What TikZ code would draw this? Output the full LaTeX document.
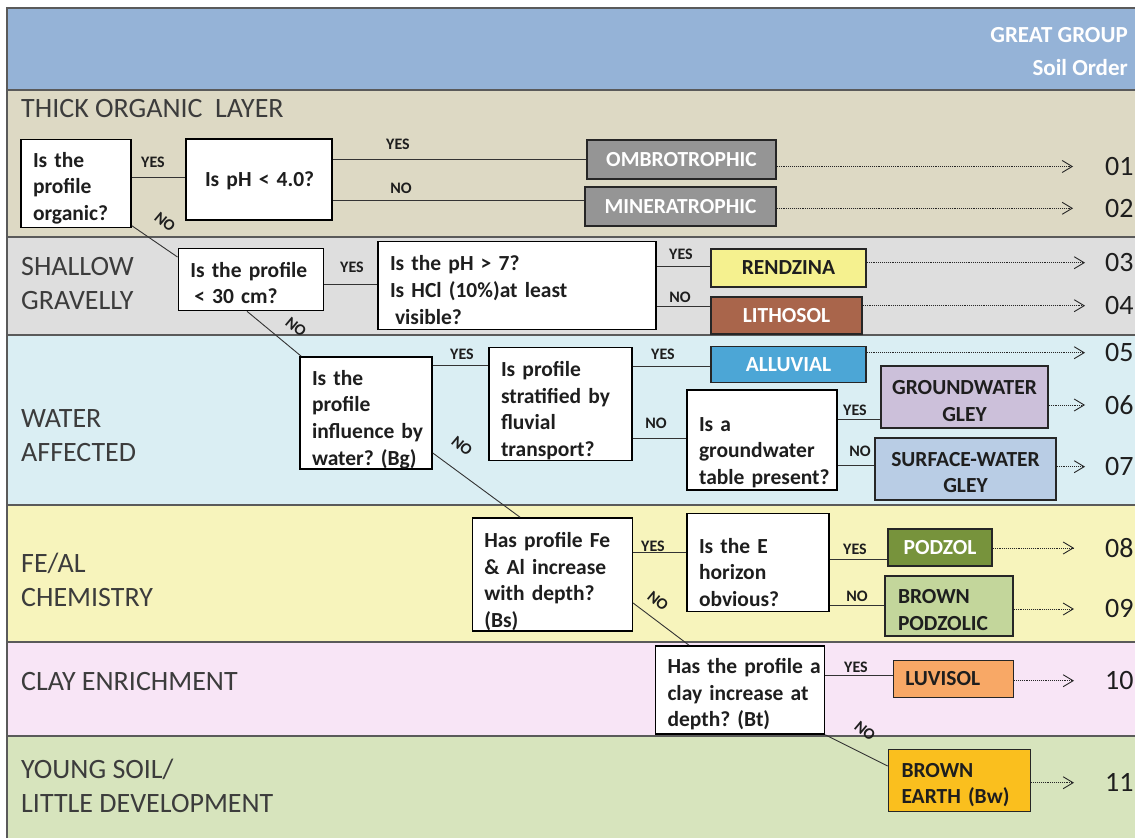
\documentclass[tikz,border=0pt]{standalone}
\usepackage{fontspec}
\setmainfont{Carlito}
\usetikzlibrary{arrows.meta}
\definecolor{hdr}{HTML}{95B3D7}
\definecolor{bandA}{HTML}{DDD9C4}
\definecolor{bandB}{HTML}{DEDEDE}
\definecolor{bandC}{HTML}{DAEEF3}
\definecolor{bandD}{HTML}{F7F4BC}
\definecolor{bandE}{HTML}{F8E5F6}
\definecolor{bandF}{HTML}{D7E4BD}
\definecolor{bandline}{HTML}{5A5A5A}
\definecolor{cOmbro}{HTML}{959595}
\definecolor{cRend}{HTML}{F5F18F}
\definecolor{cLith}{HTML}{A9654B}
\definecolor{cAllu}{HTML}{4CA6D6}
\definecolor{cGg}{HTML}{CCC0DA}
\definecolor{cSg}{HTML}{B9CDE5}
\definecolor{cPodz}{HTML}{77933C}
\definecolor{cBp}{HTML}{C3D69B}
\definecolor{cLuv}{HTML}{F8A866}
\definecolor{cBe}{HTML}{FABF1E}
\definecolor{txt}{HTML}{1E1E1E}
\definecolor{cattxt}{HTML}{3C3C3C}
\newcommand\qfont{\bfseries\fontsize{21.5}{26.6}\selectfont}
\newcommand\ynfont{\bfseries\fontsize{16}{18}\selectfont}
\newcommand\numfont{\fontsize{28}{32}\selectfont}
\newcommand\catfont{\fontsize{28}{34}\selectfont}
\newcommand\hdrfont{\bfseries\fontsize{23}{28}\selectfont}
\newcommand\ql[1]{\mbox{#1}}
\newcommand\qr[1]{\rule{0pt}{#1pt}}
\frenchspacing
\begin{document}
\begin{tikzpicture}[x=1pt,y=-1pt,
  q/.style={draw=black, line width=1.6pt, fill=white, align=left, inner xsep=12pt, inner ysep=0pt, font=\qfont, text=txt},
  rb/.style={draw=black!85, line width=1.6pt, inner sep=0pt, font=\qfont, align=center, text=txt},
  conn/.style={draw=black!80, line width=0.9pt},
  yn/.style={font=\ynfont, text=txt, inner sep=0pt},
  res/.style={draw=black!85, densely dotted, line width=0.9pt, -{Straight Barb[length=10pt,width=12pt,line width=0.9pt]}},
  num/.style={font=\numfont, text=txt, anchor=west, inner sep=0pt},
  cat/.style={font=\catfont, text=cattxt, anchor=west, align=left, inner sep=0pt},
  hdrtxt/.style={font=\hdrfont, text=white, anchor=east, inner sep=0pt},
  bl/.style={draw=bandline, line width=1.8pt}
]
\useasboundingbox (0,0) rectangle (1135,838);
\fill[white] (0,0) rectangle (1135,838);
% bands
\fill[hdr] (7,8) rectangle (1135,90);
\fill[bandA] (7,90) rectangle (1135,237);
\fill[bandB] (7,237) rectangle (1135,335);
\fill[bandC] (7,335) rectangle (1135,505);
\fill[bandD] (7,505) rectangle (1135,642);
\fill[bandE] (7,642) rectangle (1135,736);
\fill[bandF] (7,736) rectangle (1135,838);
\draw[bl] (7,838) -- (7,8) -- (1135,8);
\foreach \yy in {90,237,335,505,642,736} \draw[bl] (7,\yy) -- (1135,\yy);

% header
\node[hdrtxt] (hgg) at (1128,35) {GREAT GROUP};
\node[hdrtxt] (hso) at (1128,68) {Soil Order};

% categories
\node[cat] (c1) at (21,109) {THICK ORGANIC\ \ LAYER};
\node[cat] (c2) at (21,284) {SHALLOW\\GRAVELLY};
\node[cat] (c3) at (21,435.5) {WATER\\AFFECTED};
\node[cat] (c4) at (21,579.5) {FE/AL\\CHEMISTRY};
\node[cat] (c5) at (21,682) {CLAY ENRICHMENT};
\node[cat] (c6) at (21,786) {YOUNG SOIL/\\LITTLE DEVELOPMENT};

% question boxes
\node[q, text width=86pt, minimum height=88pt] (q1) at (76,183.5) {\ql{\qr{24}Is the}\\\ql{profile}\\\ql{organic?}};
\node[q, inner xsep=19pt, text width=108pt, minimum height=81pt] (q2) at (259,179.5) {\ql{\qr{18}Is pH < 4.0?}};
\node[q, text width=121pt, minimum height=62pt] (q3) at (250.8,279.5) {\ql{\qr{22}Is the profile}\\\ql{\hspace*{4pt}< 30 cm?}};
\node[q, text width=254pt, minimum height=88pt] (q4) at (517,285.5) {\ql{\qr{24}Is the pH > 7?}\\\ql{Is HCl (10\%)at least}\\\ql{\hspace*{5pt}visible?}};
\node[q, text width=108pt, minimum height=112pt] (q5) at (366,413) {\ql{\qr{28}Is the}\\\ql{profile}\\\ql{influence by}\\\ql{water? (Bg)}};
\node[q, text width=119pt, minimum height=113pt] (q6) at (560.5,404) {\ql{\qr{28}Is profile}\\\ql{stratified by}\\\ql{fluvial}\\\ql{transport?}};
\node[q, text width=126pt, minimum height=100pt] (q7) at (762,440) {\ql{\qr{39}Is a}\\\ql{groundwater}\\\ql{table present?}};
\node[q, text width=136pt, minimum height=113pt] (q8) at (552.3,574.5) {\ql{\qr{29}Has profile Fe}\\\ql{\& Al increase}\\\ql{with depth?}\\\ql{(Bs)}};
\node[q, text width=118pt, minimum height=98pt] (q9) at (758,562.5) {\ql{\qr{35}Is the E}\\\ql{horizon}\\\ql{obvious?}};
\node[q, text width=145pt, minimum height=88pt] (q10) at (740,690) {\ql{\qr{24}Has the profile a}\\\ql{clay increase at}\\\ql{depth? (Bt)}};

% result boxes
\node[rb, fill=cOmbro, text=white, minimum width=189pt, minimum height=39pt] (om) at (681.5,159.5) {OMBROTROPHIC};
\node[rb, fill=cOmbro, text=white, minimum width=191pt, minimum height=39pt] (mn) at (680.5,206.5) {MINERATROPHIC};
\node[rb, fill=cRend, minimum width=155pt, minimum height=38pt] (rz) at (788.5,268) {RENDZINA};
\node[rb, fill=cLith, text=white, minimum width=151pt, minimum height=37pt] (li) at (786.5,315.5) {LITHOSOL};
\node[rb, fill=cAllu, text=white, minimum width=155pt, minimum height=36pt] (al) at (788.5,364.3) {ALLUVIAL};
\node[rb, fill=cGg, minimum width=167pt, minimum height=62pt] (gg) at (964.5,397.2) {\qr{22}GROUNDWATER\\GLEY};
\node[rb, fill=cSg, minimum width=181pt, minimum height=62pt] (sg) at (965.5,469.2) {\qr{21}SURFACE-WATER\\GLEY};
\node[rb, fill=cPodz, text=white, minimum width=104pt, minimum height=37pt] (pz) at (940,547.5) {PODZOL};
\node[rb, fill=cBp, align=left, inner xsep=13pt, text width=102pt, minimum height=60pt] (bp) at (949,606) {\qr{22}BROWN\\PODZOLIC};
\node[rb, fill=cLuv, align=left, inner xsep=12pt, text width=96pt, minimum height=37pt] (lv) at (953.3,679) {LUVISOL};
\node[rb, fill=cBe, align=left, inner xsep=13pt, text width=116pt, minimum height=62pt] (be) at (959.5,780.5) {\qr{23}BROWN\\\ql{EARTH (Bw)}};

% straight connectors
\draw[conn] (q1.east |- 0,177) -- (q2.west |- 0,177);
\draw[conn] (q2.east |- 0,159.3) -- (om.west |- 0,159.3);
\draw[conn] (q2.east |- 0,200) -- (mn.west |- 0,200);
\draw[conn] (q3.east |- 0,284.3) -- (q4.west |- 0,284.3);
\draw[conn] (q4.east |- 0,266) -- (rz.west |- 0,266);
\draw[conn] (q4.east |- 0,306) -- (li.west |- 0,306);
\draw[conn] (q5.east |- 0,365) -- (q6.west |- 0,365);
\draw[conn] (q6.east |- 0,366) -- (al.west |- 0,366);
\draw[conn] (q6.east |- 0,438) -- (q7.west |- 0,438);
\draw[conn] (q7.east |- 0,419) -- (gg.west |- 0,419);
\draw[conn] (q7.east |- 0,465) -- (sg.west |- 0,465);
\draw[conn] (q8.east |- 0,552) -- (q9.west |- 0,552);
\draw[conn] (q9.east |- 0,559) -- (pz.west |- 0,559);
\draw[conn] (q9.east |- 0,605) -- (bp.west |- 0,605);
\draw[conn] (q10.east |- 0,675) -- (lv.west |- 0,675);
% diagonal NO connectors
\draw[conn] (q1.east |- 0,225.7) -- (q3.west |- 0,257);
\draw[conn] (q3.south -| 247,0) -- ([xshift=2pt]q5.north west);
\draw[conn] (q5.east |- 0,453) -- (q8.north -| 520,0);
\draw[conn] (q8.east |- 0,603) -- (q10.north -| 689,0);
\draw[conn] (q10.south east) -- (be.west |- 0,766);

% YES / NO labels
\node[yn] (y1) at (153,162) {YES};
\node[yn] (y2) at (398,144) {YES};
\node[yn] (n2) at (401,188) {NO};
\node[yn, rotate=-40] (n1) at (165,222) {NO};
\node[yn] (y3) at (352,267) {YES};
\node[yn] (y4) at (681,254) {YES};
\node[yn] (n4) at (680,297) {NO};
\node[yn, rotate=-40] (n3) at (296,327) {NO};
\node[yn] (y5) at (462,354) {YES};
\node[yn] (y6) at (663,354) {YES};
\node[yn] (n6) at (656,423) {NO};
\node[yn] (y7) at (855,410) {YES};
\node[yn] (n7) at (860,451) {NO};
\node[yn, rotate=-40] (n5) at (462,446) {NO};
\node[yn] (y8) at (653,546) {YES};
\node[yn] (y9) at (855,549) {YES};
\node[yn] (n9) at (857,596) {NO};
\node[yn, rotate=-40] (n8) at (658,601) {NO};
\node[yn] (y10) at (856,667) {YES};
\node[yn, rotate=-40] (n10) at (865,731) {NO};

% result arrows and numbers
\coordinate (t01) at (1073,166.5);
\coordinate (t02) at (1073,208.3);
\coordinate (t03) at (1085,262.7);
\coordinate (t04) at (1085,305.7);
\coordinate (t05) at (1085,352.7);
\coordinate (t06) at (1085,405);
\coordinate (t07) at (1085,466.7);
\coordinate (t08) at (1074,548);
\coordinate (t09) at (1074,609);
\coordinate (t10) at (1074,680.7);
\coordinate (t11) at (1074,782.7);
\draw[res] (om.east |- t01) -- (t01);
\draw[res] (mn.east |- t02) -- (t02);
\draw[res] (rz.east |- t03) -- (t03);
\draw[res] (li.east |- t04) -- (t04);
\draw[res] (al.east |- t05) -- (t05);
\draw[res] (gg.east |- t06) -- (t06);
\draw[res] (sg.east |- t07) -- (t07);
\draw[res] (pz.east |- t08) -- (t08);
\draw[res] (bp.east |- t09) -- (t09);
\draw[res] (lv.east |- t10) -- (t10);
\draw[res] (be.east |- t11) -- (t11);
\node[num] (n01) at (1105,166.5) {01};
\node[num] (n02) at (1105,208.3) {02};
\node[num] (n03) at (1105,262.7) {03};
\node[num] (n04) at (1105,305.7) {04};
\node[num] (n05) at (1105,352.7) {05};
\node[num] (n06) at (1105,405) {06};
\node[num] (n07) at (1105,466.7) {07};
\node[num] (n08) at (1105,548) {08};
\node[num] (n09) at (1105,609) {09};
\node[num] (n10) at (1105,680.7) {10};
\node[num] (n11) at (1105,782.7) {11};
\end{tikzpicture}
\end{document}
